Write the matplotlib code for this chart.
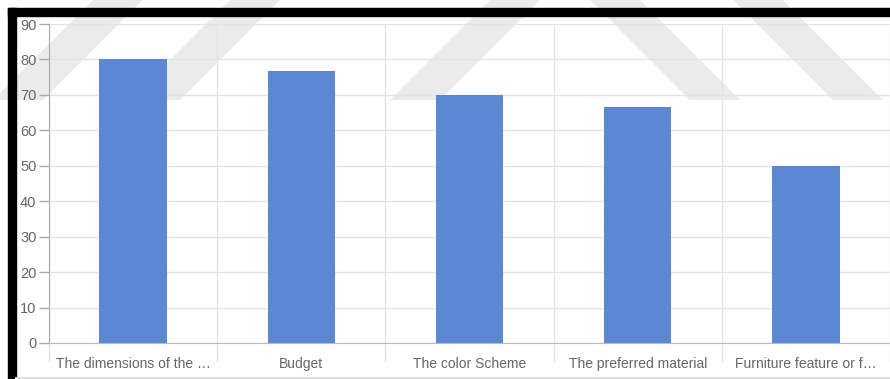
import matplotlib
matplotlib.use("Agg")
import matplotlib.pyplot as plt
from matplotlib.patches import Rectangle, Polygon

categories = ["The dimensions of the \u2026", "Budget", "The color Scheme",
              "The preferred material", "Furniture feature or f\u2026"]
values = [80, 76.67, 70, 66.67, 50]
yticks = [0, 10, 20, 30, 40, 50, 60, 70, 80, 90]

plt.rcParams['font.family'] = ['Liberation Sans', 'DejaVu Sans']

W, H = 890, 379
fig = plt.figure(figsize=(W / 100, H / 100), dpi=100)
fig.patch.set_facecolor('white')

def fx(x):
    return x / W

def fy(y):
    return (H - y) / H

left, right, top, bottom = 49, 890, 24, 343
ax = fig.add_axes([fx(left), fy(bottom), fx(right) - fx(left), fy(top) - fy(bottom)])
ax.set_facecolor('none')
ax.set_zorder(5)

x = list(range(len(categories)))
ax.bar(x, values, width=0.4, color='#5b87d4', zorder=3)

ax.set_xlim(-0.5, len(categories) - 0.5)
ax.set_ylim(0, 90)
ax.set_yticks(yticks)
ax.set_xticks(x)
ax.set_xticklabels(categories)
ax.set_xticks([i + 0.5 for i in range(-1, len(categories))], minor=True)

grid_c = '#e3e3e3'
ax.grid(axis='y', which='major', color=grid_c, linewidth=1, zorder=0)
ax.grid(axis='x', which='minor', color=grid_c, linewidth=1, zorder=0)
ax.tick_params(axis='x', which='major', length=0, pad=10, labelsize=10, labelcolor='#666666')
ax.tick_params(axis='x', which='minor', length=14, direction='out', color=grid_c, width=1)
ax.tick_params(axis='y', length=7, direction='out', color='#aaaaaa', width=1,
               pad=2, labelsize=10.5, labelcolor='#666666')

for s in ['top', 'right']:
    ax.spines[s].set_visible(False)
ax.spines['left'].set_color('#aaaaaa')
ax.spines['bottom'].set_color('#bbbbbb')
ax.spines['left'].set_zorder(4)
ax.spines['bottom'].set_zorder(4)

# frame of the screenshot
fig.add_artist(Rectangle((fx(8), fy(16)), fx(890) - fx(8), fy(8) - fy(16),
                         transform=fig.transFigure, color='black', zorder=20))
fig.add_artist(Rectangle((fx(8), fy(379)), fx(16) - fx(8), fy(8) - fy(379),
                         transform=fig.transFigure, color='black', zorder=20))
fig.add_artist(plt.Line2D([fx(16), 1], [fy(378), fy(378)], transform=fig.transFigure,
                          color='#dddddd', linewidth=1.5, zorder=20))

# watermark stripes (behind the chart)
def stripe(x0, direction):
    ybot, ytop, w = 100, -30, 50
    d = (ybot - ytop) * direction
    pts = [(x0, ybot), (x0 + w, ybot), (x0 + w + d, ytop), (x0 + d, ytop)]
    fig.add_artist(Polygon([(fx(a), fy(b)) for a, b in pts], closed=True,
                           transform=fig.transFigure, facecolor='#ebebeb',
                           edgecolor='none', zorder=1))

for x0 in [-7, 130, 390]:
    stripe(x0, 1)
for x0 in [690, 833]:
    stripe(x0, -1)

fig.savefig('out.png', dpi=100)
